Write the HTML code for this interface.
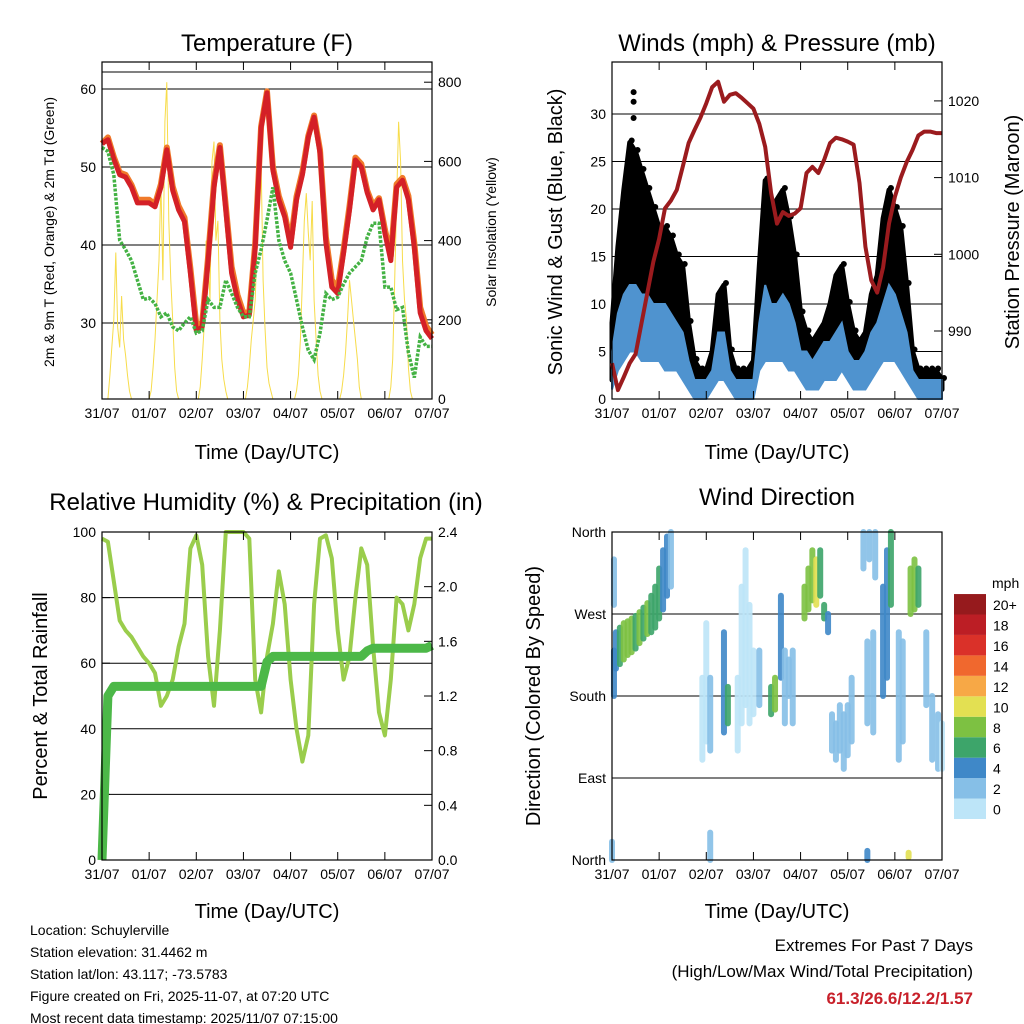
<!DOCTYPE html>
<html><head><meta charset="utf-8"><style>
html,body{margin:0;padding:0;background:#fff;}
svg{display:block;font-family:"Liberation Sans",sans-serif;}
</style></head><body>
<svg id="chart" width="1024" height="1024" viewBox="0 0 1024 1024" xmlns="http://www.w3.org/2000/svg">
<g font-size="24" text-anchor="middle" fill="#000">
<text x="267" y="51">Temperature (F)</text>
<text x="777" y="51">Winds (mph) &amp; Pressure (mb)</text>
<text x="266" y="510">Relative Humidity (%) &amp; Precipitation (in)</text>
<text x="777" y="505">Wind Direction</text>
</g>
<g font-size="20" text-anchor="middle">
<text x="267" y="459">Time (Day/UTC)</text>
<text x="777" y="459">Time (Day/UTC)</text>
<text x="267" y="918">Time (Day/UTC)</text>
<text x="777" y="918">Time (Day/UTC)</text>
<text transform="translate(54,232) rotate(-90)" font-size="14">2m &amp; 9m T (Red, Orange) &amp; 2m Td (Green)</text>
<text transform="translate(496,232) rotate(-90)" font-size="14">Solar Insolation (Yellow)</text>
<text transform="translate(562,232) rotate(-90)">Sonic Wind &amp; Gust (Blue, Black)</text>
<text transform="translate(1019,232) rotate(-90)">Station Pressure (Maroon)</text>
<text transform="translate(47,696) rotate(-90)">Percent &amp; Total Rainfall</text>
<text transform="translate(540,696) rotate(-90)">Direction (Colored By Speed)</text>
</g>
<g font-size="14">
<text x="30" y="935">Location: Schuylerville</text>
<text x="30" y="957">Station elevation: 31.4462 m</text>
<text x="30" y="979">Station lat/lon: 43.117; -73.5783</text>
<text x="30" y="1001">Figure created on Fri, 2025-11-07, at 07:20 UTC</text>
<text x="30" y="1023">Most recent data timestamp: 2025/11/07 07:15:00</text>
</g>
<g text-anchor="end">
<text x="973" y="951" font-size="17">Extremes For Past 7 Days</text>
<text x="973" y="977" font-size="17">(High/Low/Max Wind/Total Precipitation)</text>
<text x="973" y="1004" font-size="17" font-weight="bold" fill="#c8202a">61.3/26.6/12.2/1.57</text>
</g>
<g id="layer"></g>
</svg>
<script>
const dayLabels = ["31/07","01/07","02/07","03/07","04/07","05/07","06/07","07/07"];
const tempRed = [53,53.5,51,49,48.7,47.4,45.4,45.4,45.4,44.9,47.4,52.2,47,44.5,43,36.4,29,29.5,38,47.4,52.5,44.5,36.4,33,30.8,31,39.7,55,59.5,49.6,45.8,43.6,39.7,45.8,49,53.8,56.4,51.8,40.3,34.6,33.8,39,44.5,50.9,50,46.7,44.5,45.8,41.5,38,47.4,48.3,45.8,39.7,31.3,29,28];
const tempOrange = [53,53.8,51.3,49.3,49,47.7,45.8,45.8,45.8,45.2,47.8,52.5,47.5,45,43.5,37,29.8,30,38.5,48,52.8,45,37.2,33.6,31.3,31.4,40.2,55.2,59.7,50,46.3,44,40.3,46.2,49.4,54,56.6,52.2,41,35.5,34.5,39.4,45,51.2,50.4,47,45,46,42,38.6,47.8,48.6,46.3,40.3,32,29.6,28.5];
const tempDew = [52.5,52,49,40.6,39.4,38,35.5,33,33.2,32.5,30.8,31.3,29.5,29,30,30.8,28.7,29,33,32,32,35.5,33.8,32,30.8,30.8,36.4,39.4,43.2,47.4,40.6,38,36.4,33,29.5,26.5,25.3,28.7,33.8,33,33.3,35,36.4,37.2,38,41,42.8,42.8,34.6,34.6,31.7,32,26.2,23,28.2,27,27];
const solar = [0,0,0,0,60,130,200,370,180,130,260,150,110,60,20,0,0,0,0,0,0,0,0,0,
0,20,80,150,250,350,550,300,700,800,450,300,200,80,20,0,0,0,0,0,0,0,0,0,
0,0,30,100,180,400,350,250,600,650,400,450,200,100,50,20,0,0,0,0,0,0,0,0,
0,0,30,80,150,200,250,400,500,600,300,180,80,40,20,0,0,0,0,0,0,0,0,0,
0,0,0,20,60,150,300,450,520,420,350,500,250,150,60,20,0,0,0,0,0,0,0,0,
0,0,20,60,120,200,300,250,200,150,100,30,0,0,0,0,0,0,0,0,0,0,0,0,
0,0,0,30,100,300,500,700,600,350,250,200,80,20,0,0,0,0,0,0,0,0,0,0,0];
const gustHi = [8,16,22,27,26,24,22,20,18,18,17,15,14,8,4,3,3,5,11,12,5,3,3,3,4,14,23,20,21,22,19,15,9,7,6,7,8,10,13,14,10,7,6,7,11,13,19,22,20,18,12,5,3,3,3,3,2];
const gustLo = [2,6,10,11,10,10,9,8,8,8,7,6,5,3,1,1,1,2,4,4,2,1,1,1,1,6,9,8,8,9,8,6,4,3,2,3,3,4,5,6,4,3,2,3,4,5,7,9,8,7,5,2,1,1,1,1,1];
const windHi = [5,9,11,12,12,11,11,10,10,10,9,8,7,4,2,2,2,3,7,7,3,2,2,2,2,8,12,10,10,11,10,8,5,5,4,5,6,6,7,8,5,4,4,5,7,8,10,12,11,9,7,3,2,2,2,2,2];
const windLo = [1,3,4,5,5,4,4,4,4,3,3,3,2,1,0,0,0,1,2,2,1,0,0,0,0,3,4,4,4,4,3,3,2,1,1,1,2,2,2,3,2,1,1,1,2,3,4,4,4,3,2,1,0,0,0,0,0];
const gustOutliers = [32.3,31.5,30];
const pressure = [985.8,982.3,984,985.8,987,991,995,999,1002,1006,1007,1008.4,1011.4,1014.5,1016.2,1017.8,1019.7,1021.8,1022.5,1019.9,1020.8,1021,1020.4,1019.7,1019,1017,1014,1008,1004,1005.5,1005,1005.3,1006,1010.6,1011.4,1010.6,1012.3,1014.5,1015.2,1015,1014.7,1014.3,1009.3,1001,996.6,995,998.3,1004,1007.5,1010,1012,1013.6,1015.5,1016,1016,1015.8,1015.8];
const rh = [98,97,85,73,70,68,65,62,60,57,47,50,55,65,72,95,99,90,62,47,70,100,100,100,100,98,55,45,62,72,88,78,55,40,30,38,78,98,99,92,70,55,62,80,95,90,65,45,38,55,80,78,70,78,92,98,98];
const precip = [0,1.2,1.27,1.27,1.27,1.27,1.27,1.27,1.27,1.27,1.27,1.27,1.27,1.27,1.27,1.27,1.27,1.27,1.27,1.27,1.27,1.27,1.27,1.27,1.27,1.27,1.27,1.27,1.45,1.49,1.49,1.49,1.49,1.49,1.49,1.49,1.49,1.49,1.49,1.49,1.49,1.49,1.49,1.49,1.49,1.53,1.55,1.55,1.55,1.55,1.55,1.55,1.55,1.55,1.55,1.55,1.57];
const dirHour = [2,4,6,8,10,12,14,16,18,20,22,24,26,28,30,1,1,46,48,50,57,59,64,66,68,70,72,75,81,83,86,88,90,92,98,100,102,104,106,108,110,112,114,116,118,120,122,128,131,134,130,133,138,140,142,146,148,152,154,156,160,163,166,168,0,50,130,151];
const dirLo = [210,215,220,225,228,232,238,243,248,250,255,265,275,290,300,180,280,110,130,120,140,150,120,150,170,150,160,170,160,165,200,150,180,150,265,275,285,280,290,265,250,120,110,120,100,115,130,320,330,310,150,140,180,200,280,110,130,270,275,280,170,110,100,100,0,0,0,3];
const dirHi = [250,255,260,262,265,268,272,277,282,290,300,320,340,355,360,230,330,200,260,200,250,190,200,300,340,280,230,230,190,200,290,230,220,230,300,320,340,330,340,280,270,160,150,170,160,170,200,360,360,360,240,250,300,340,360,250,240,320,330,320,250,180,160,150,20,30,10,8];
const dirSpeed = [4,7,8,9,8,7,8,7,8,7,6,6,5,4,3,4,2,1,1,2,4,6,1,1,1,1,1,2,7,9,4,3,3,3,8,8,9,10,7,6,4,2,2,2,2,2,3,2,2,2,2,2,4,4,6,2,3,8,9,6,3,2,2,1,2,2,4,10];
const cbLabels = ["0","2","4","6","8","10","12","14","16","18","20+"];
const cbColors = ["#bde5f8","#86bfe7","#3f88c8","#3da56a","#7dc142","#e3e052","#f7a846","#f0682e","#da3129","#bc1e25","#961a1d"];

const NS = "http://www.w3.org/2000/svg";
const layer = document.getElementById("layer");
function mk(tag, attrs, parent) {
  const e = document.createElementNS(NS, tag);
  for (const k in attrs) e.setAttribute(k, attrs[k]);
  (parent || layer).appendChild(e);
  return e;
}
function tx(x0, h) { return x0 + h * 330 / 168; }
function pts(arr, x0, yfn) {
  const step = 168 / (arr.length - 1);
  return arr.map((v, i) => tx(x0, i * step).toFixed(1) + "," + yfn(v).toFixed(1)).join(" ");
}
function bandPts(hi, lo, x0, yfn) {
  const step = 168 / (hi.length - 1);
  const up = hi.map((v, i) => tx(x0, i * step).toFixed(1) + "," + yfn(v).toFixed(1));
  const dn = lo.map((v, i) => tx(x0, i * step).toFixed(1) + "," + yfn(v).toFixed(1)).reverse();
  return up.concat(dn).join(" ");
}
const yT = v => 323 - (v - 30) * 7.8;
const yS = v => 399 - v * 0.396;
const yW = v => 399 - v * 9.5;
const yP = v => 331 - (v - 990) * 7.67;
const yR = v => 860 - v * 3.28;
const yPr = v => 860 - v * 136.67;
const yD = d => 860 - d * 328 / 360;

function frame(x0, y0, y1, name) {
  const r = mk("rect", {x: x0, y: y0, width: 330, height: y1 - y0, fill: "none", stroke: "#000", "stroke-width": 1.2});
  
  
  for (let d = 0; d < dayLabels.length; d++) {
    const x = tx(x0, d * 24);
    const tb = mk("line", {x1: x, x2: x, y1: y1, y2: y1 - 8, stroke: "#000"});
    
    
    const tt = mk("line", {x1: x, x2: x, y1: y0, y2: y0 + 8, stroke: "#000"});
    
    
    const lb = mk("text", {x: x, y: y1 + 19, "font-size": 14, "text-anchor": "middle"});
    lb.textContent = dayLabels[d];
    
    
  }
}
function hgrid(x0, y, name) {
  const g = mk("line", {x1: x0, x2: x0 + 330, y1: y, y2: y, stroke: "#000", "stroke-width": 1});
  
  
}
function ytick(x, y, side, label, name) {
  const t = mk("line", {x1: x, x2: x + (side === "left" ? 8 : -8), y1: y, y2: y, stroke: "#000"});
  
  
  const l = mk("text", {x: side === "left" ? x - 6 : x + 6, y: y + 5, "font-size": 14, "text-anchor": side === "left" ? "end" : "start"});
  l.textContent = label;
  
  
}

/* ---------- Temperature panel ---------- */
[30, 40, 50, 60].forEach(v => { hgrid(102, yT(v), 'temp-gridline'); ytick(102, yT(v), "left", v, 'temp-y'); });
hgrid(102, 72, 'temp-gridline');
[0, 200, 400, 600, 800].forEach(v => ytick(432, yS(v), "right", v, 'solar-y'));
const solarLine = mk("polyline", {points: pts(solar, 102, yS), fill: "none", stroke: "#f7dc4a", "stroke-width": 1});


const orangeLine = mk("polyline", {points: pts(tempOrange, 102, yT), fill: "none", stroke: "#f07a2a", "stroke-width": 6, "stroke-linejoin": "round"});


const redLine = mk("polyline", {points: pts(tempRed, 102, yT), fill: "none", stroke: "#d42027", "stroke-width": 5, "stroke-linejoin": "round"});


const dewLine = mk("polyline", {points: pts(tempDew, 102, yT), fill: "none", stroke: "#44b244", "stroke-width": 3.5, "stroke-dasharray": "3 1.5"});


frame(102, 62, 399, 'temp');

/* ---------- Wind panel ---------- */
[5, 10, 15, 20, 25, 30].forEach(v => hgrid(612, yW(v), 'wind-gridline'));
[0, 5, 10, 15, 20, 25, 30].forEach(v => ytick(612, yW(v), "left", v, 'wind-y'));
[990, 1000, 1010, 1020].forEach(v => ytick(942, yP(v), "right", v, 'pressure-y'));
{
  const step = 168 / (gustHi.length - 1);
  const gBand = mk("polygon", {points: bandPts(gustHi, gustLo, 612, yW), fill: "#000", stroke: "#000", "stroke-width": 5, "stroke-linejoin": "round"});
  
  
  gustHi.forEach((v, i) => {
    const d1 = mk("circle", {cx: tx(612, i * step) + 2, cy: yW(v) - 2, r: 3, fill: "#000"});
    
    
  });
  gustOutliers.forEach((v, i) => {
    const d = mk("circle", {cx: tx(612, 11), cy: yW(v) + i * 2, r: 3, fill: "#000"});
    
    
  });
  const band = mk("polygon", {points: bandPts(windHi, windLo, 612, yW), fill: "#4f93cf", stroke: "#4f93cf", "stroke-width": 2});
  
  
}
const pLine = mk("polyline", {points: pts(pressure, 612, yP), fill: "none", stroke: "#9b1b1e", "stroke-width": 4, "stroke-linejoin": "round"});


frame(612, 62, 399, 'wind');

/* ---------- RH panel ---------- */
[20, 40, 60, 80].forEach(v => hgrid(102, yR(v), 'rh-gridline'));
[0, 20, 40, 60, 80, 100].forEach(v => ytick(102, yR(v), "left", v, 'rh-y'));
[0, 0.4, 0.8, 1.2, 1.6, 2.0, 2.4].forEach(v => ytick(432, yPr(v), "right", v.toFixed(1), 'precip-y'));
const rhLine = mk("polyline", {points: pts(rh, 102, yR), fill: "none", stroke: "#9acd4c", "stroke-width": 4, "stroke-linejoin": "round"});


const prLine = mk("polyline", {points: pts(precip, 102, yPr), fill: "none", stroke: "#4cb848", "stroke-width": 9, "stroke-linejoin": "round"});


frame(102, 532, 860, 'rh');

/* ---------- Direction panel ---------- */
const dirNames = ["North", "East", "South", "West", "North"];
[0, 90, 180, 270, 360].forEach((d, i) => { hgrid(612, yD(d), 'dir-gridline'); ytick(612, yD(d), "left", dirNames[i], 'dir-y'); });
dirHour.forEach((h, i) => {
  const x = tx(612, h);
  const c = cbColors[Math.min(10, Math.floor(dirSpeed[i] / 2))];
  const s = mk("line", {x1: x, x2: x, y1: yD(dirLo[i]), y2: yD(dirHi[i]), stroke: c, "stroke-width": 6, "stroke-linecap": "round", opacity: 0.9});
  
  
});
frame(612, 532, 860, 'dir');

/* ---------- Colorbar ---------- */
const cbT = mk("text", {x: 992, y: 588, "font-size": 14});
cbT.textContent = "mph";


cbColors.forEach((c, i) => {
  const y = 819 - (i + 1) * 20.45;
  const b = mk("rect", {x: 954, y: y, width: 32, height: 20.45, fill: c});
  
  
  const l = mk("text", {x: 993, y: y + 16, "font-size": 14});
  l.textContent = cbLabels[i];
  
  
});
</script>
</body></html>
